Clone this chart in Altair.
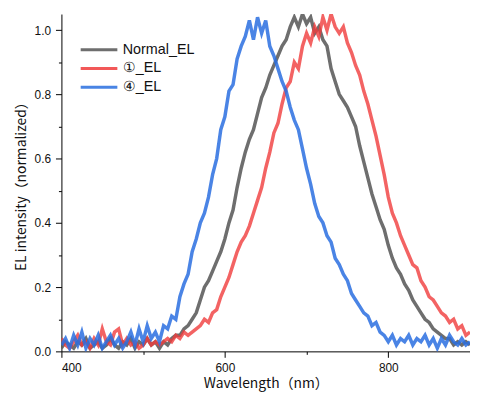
import altair as alt
import pandas as pd

wavelength = list(range(400, 905, 5))

normal_el = [
    0.01, 0.03, 0.02, 0.01, 0.03, 0.02, 0.04, 0.01, 0.02, 0.03,
    0.01, 0.02, 0.04, 0.02, 0.01, 0.03, 0.02, 0.04, 0.01, 0.03,
    0.02, 0.04, 0.02, 0.03, 0.01, 0.03, 0.02, 0.04, 0.05, 0.05,
    0.07, 0.08, 0.10, 0.12, 0.16, 0.20, 0.22, 0.25, 0.28, 0.31,
    0.35, 0.40, 0.44, 0.51, 0.57, 0.62, 0.66, 0.69, 0.74, 0.79,
    0.82, 0.86, 0.89, 0.92, 0.95, 0.97, 1.01, 1.04, 1.01, 1.05,
    1.02, 1.04, 0.99, 1.01, 0.97, 0.95, 0.88, 0.84, 0.80, 0.78,
    0.76, 0.73, 0.70, 0.64, 0.59, 0.54, 0.49, 0.45, 0.41, 0.38,
    0.33, 0.29, 0.26, 0.24, 0.21, 0.19, 0.16, 0.14, 0.12, 0.10,
    0.09, 0.07, 0.06, 0.05, 0.04, 0.04, 0.02, 0.03, 0.02, 0.03,
    0.02,
]

el_1 = [
    0.04, 0.02, 0.01, 0.03, 0.05, 0.02, 0.03, 0.01, 0.04, 0.02,
    0.07, 0.03, 0.02, 0.06, 0.07, 0.02, 0.04, 0.02, 0.03, 0.01,
    0.02, 0.04, 0.02, 0.03, 0.02, 0.03, 0.04, 0.03, 0.05, 0.04,
    0.06, 0.05, 0.06, 0.07, 0.08, 0.10, 0.09, 0.12, 0.13, 0.17,
    0.20, 0.23, 0.27, 0.31, 0.34, 0.36, 0.39, 0.43, 0.47, 0.51,
    0.57, 0.62, 0.68, 0.71, 0.77, 0.82, 0.84, 0.90, 0.88, 0.95,
    0.99, 0.96, 1.01, 0.98, 1.04, 1.00, 1.05, 1.01, 0.99, 1.01,
    0.96, 0.93, 0.89, 0.86, 0.81, 0.77, 0.72, 0.67, 0.61, 0.55,
    0.48, 0.43, 0.40, 0.36, 0.33, 0.30, 0.27, 0.26, 0.22, 0.20,
    0.17, 0.16, 0.14, 0.12, 0.11, 0.09, 0.10, 0.07, 0.08, 0.05,
    0.06,
]

el_4 = [
    0.02, 0.04, 0.01, 0.05, 0.02, 0.06, 0.01, 0.04, 0.02, 0.05,
    0.01, 0.03, 0.05, 0.02, 0.04, 0.01, 0.03, 0.06, 0.02, 0.07,
    0.03, 0.08, 0.04, 0.06, 0.03, 0.08, 0.07, 0.11, 0.10, 0.17,
    0.21, 0.24, 0.31, 0.35, 0.40, 0.43, 0.48, 0.55, 0.60, 0.69,
    0.73, 0.81, 0.83, 0.91, 0.95, 0.98, 1.03, 0.97, 1.04, 0.99,
    1.03, 0.95, 0.92, 0.88, 0.84, 0.81, 0.76, 0.72, 0.69, 0.63,
    0.57, 0.52, 0.46, 0.42, 0.40, 0.36, 0.34, 0.29, 0.27, 0.24,
    0.22, 0.18, 0.16, 0.14, 0.12, 0.11, 0.08, 0.09, 0.06, 0.05,
    0.03, 0.05, 0.02, 0.04, 0.03, 0.05, 0.02, 0.04, 0.03, 0.05,
    0.02, 0.04, 0.01, 0.04, 0.02, 0.05, 0.03, 0.02, 0.04, 0.02,
    0.03,
]

series_names = ["Normal_EL", "①_EL", "④_EL"]
series_colors = ["#555555", "#f03c3c", "#2a6fe0"]
series_values = [normal_el, el_1, el_4]

x_major_ticks = [400, 600, 800]
x_minor_ticks = [500, 700, 900]
y_major_ticks = [0.0, 0.2, 0.4, 0.6, 0.8, 1.0]
y_minor_ticks = [0.1, 0.3, 0.5, 0.7, 0.9]

rows = []
for name, vals in zip(series_names, series_values):
    for w, v in zip(wavelength, vals):
        rows.append({"wl": w, "val": v, "series": name})
df = pd.DataFrame(rows)

xscale = alt.Scale(domain=[400, 900], nice=False, zero=False)
yscale = alt.Scale(domain=[0, 1.05], nice=False)

legend = alt.Legend(
    title=None, orient="none", legendX=28, legendY=26,
    symbolType="M-2.18,0H2.18", symbolSize=289, symbolStrokeWidth=3,
    labelFont="Liberation Sans", labelFontSize=14.5, labelColor="#111111",
    labelOffset=14, rowPadding=2, padding=0,
)
color = alt.Color(
    "series:N",
    scale=alt.Scale(domain=series_names, range=series_colors),
    legend=legend,
)

x_main = alt.X(
    "wl:Q", scale=xscale,
    axis=alt.Axis(values=x_major_ticks, tickSize=6, orient="bottom",
                  title="Wavelength（nm）", labelPadding=5, titlePadding=4,
                  format=".0f"),
)
y_main = alt.Y(
    "val:Q", scale=yscale,
    axis=alt.Axis(values=y_major_ticks, tickSize=6, orient="left",
                  title="EL intensity（normalized）", labelPadding=5,
                  titlePadding=6, format=".1f"),
)

layers = []
opac = [0.85, 0.8, 0.85]
for name, op in zip(series_names, opac):
    layers.append(
        alt.Chart(df)
        .transform_filter(alt.datum.series == name)
        .mark_line(strokeWidth=3.5, opacity=op, clip=True)
        .encode(x=x_main, y=y_main, color=color)
    )
lines = alt.layer(*layers)

minor = (
    alt.Chart(df)
    .transform_filter(alt.datum.series == series_names[0])
    .mark_line(opacity=0)
    .encode(
        x=alt.X("wl:Q", scale=xscale,
                axis=alt.Axis(values=x_minor_ticks, tickSize=3, orient="bottom",
                              labels=False, domain=False, title=None)),
        y=alt.Y("val:Q", scale=yscale,
                axis=alt.Axis(values=y_minor_ticks, tickSize=3, orient="left",
                              labels=False, domain=False, title=None)),
    )
)

chart = (
    alt.layer(lines, minor)
    .resolve_axis(x="independent", y="independent")
    .properties(
        width=413, height=341,
        autosize=alt.AutoSizeParams(type="none"),
        padding={"left": 54, "top": 4, "right": 0, "bottom": 42},
    )
    .configure_view(stroke=None)
    .configure_axis(
        grid=False, domainColor="#000000", tickColor="#000000",
        domainWidth=1, tickWidth=1,
        labelFont="Liberation Sans", labelFontSize=12, labelColor="#111111",
        titleFont="Noto Sans CJK JP", titleFontSize=14, titleFontWeight="normal",
        titleColor="#111111",
    )
)

chart.save("out.html", embed_options={"renderer": "svg", "actions": False})
